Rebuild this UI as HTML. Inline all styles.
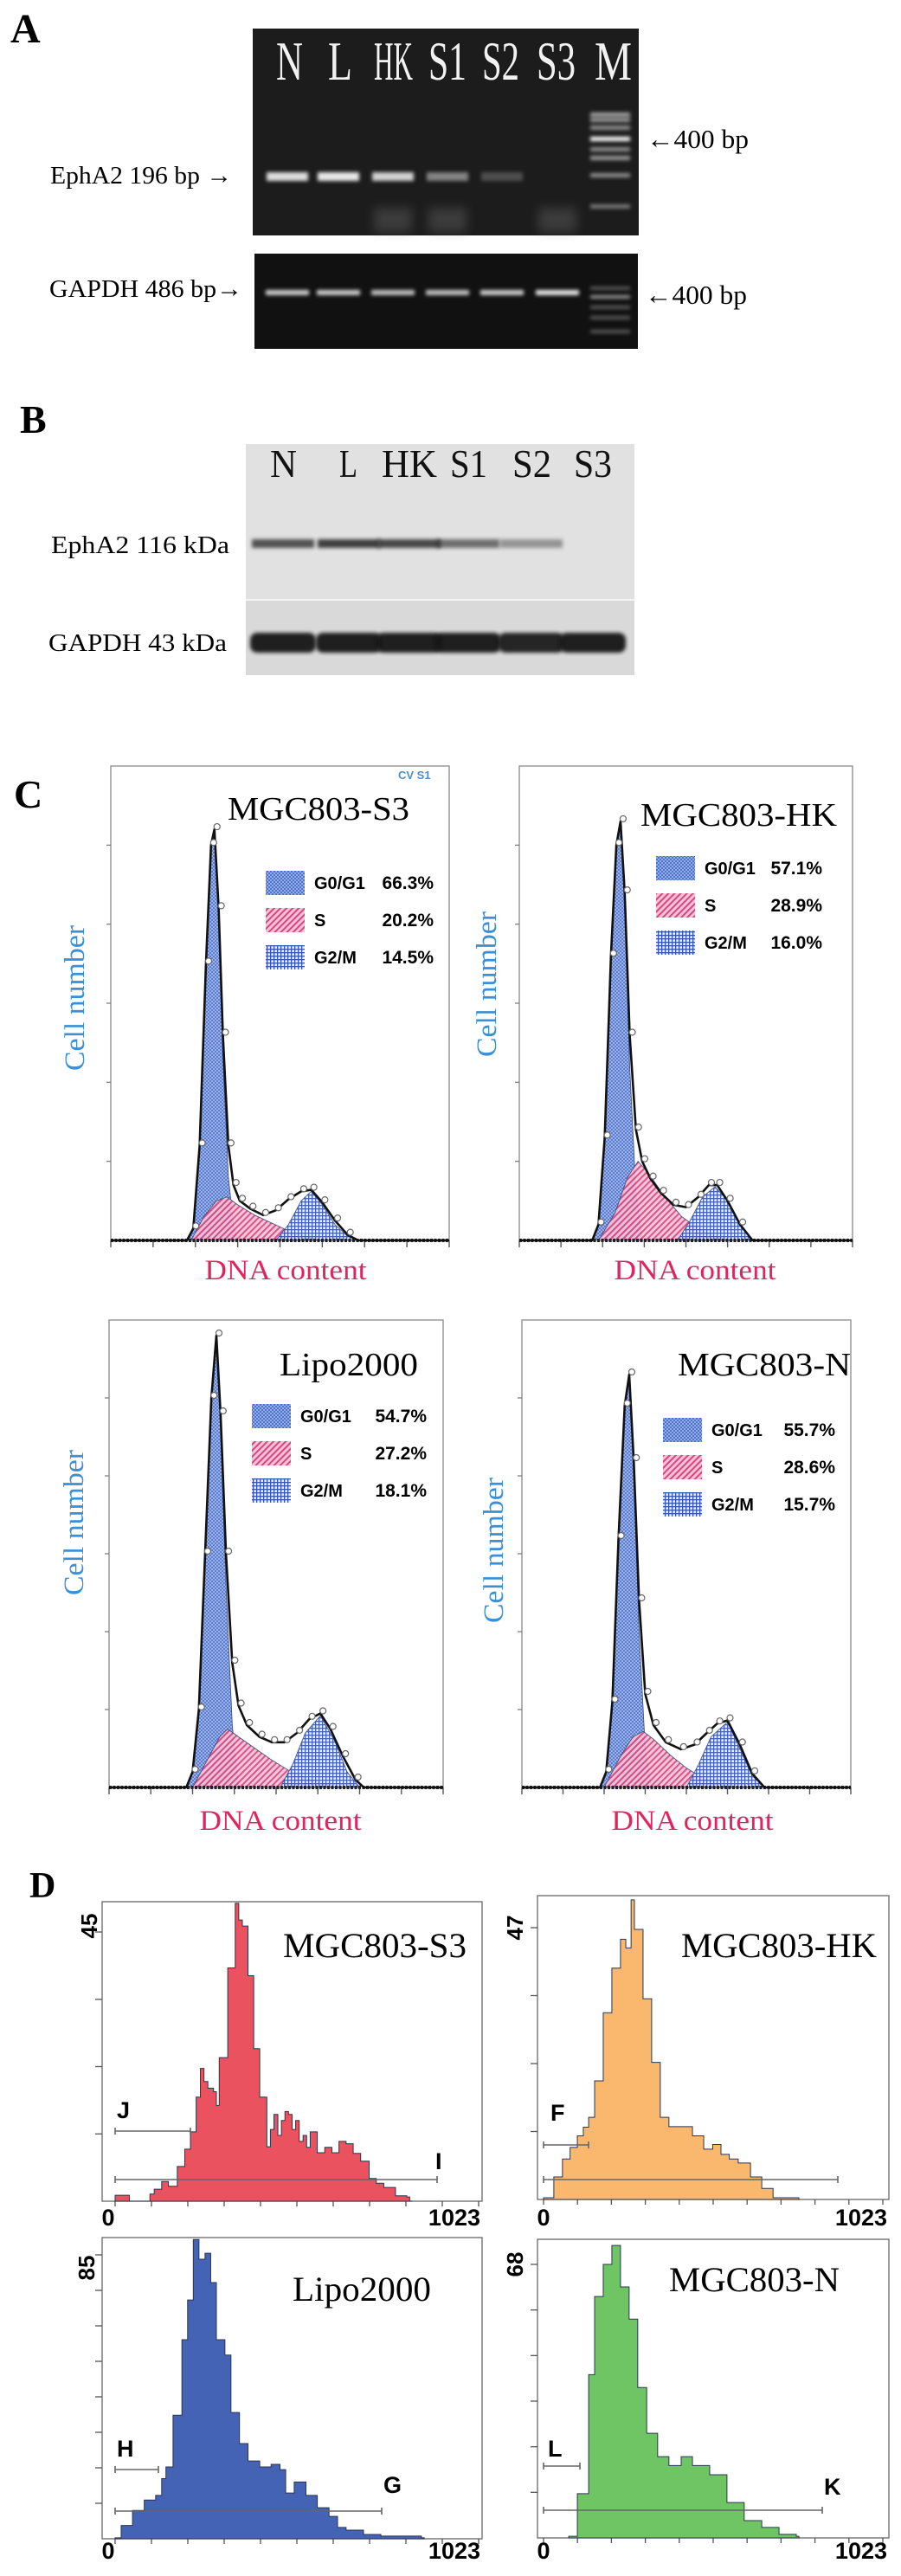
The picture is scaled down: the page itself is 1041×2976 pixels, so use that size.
<!DOCTYPE html>
<html><head><meta charset="utf-8"><title>EphA2 figure</title>
<style>
html,body{margin:0;padding:0;background:#fff;}
svg{display:block;}
.serif{font-family:"Liberation Serif",serif;}
.sans{font-family:"Liberation Sans",sans-serif;}
</style></head>
<body>
<svg id="fig" width="1041" height="2976" viewBox="0 0 1041 2976" xmlns="http://www.w3.org/2000/svg">
<defs>
  <filter id="blur2" x="-20%" y="-100%" width="140%" height="300%"><feGaussianBlur stdDeviation="2"/></filter>
  <filter id="blur6" x="-30%" y="-100%" width="160%" height="300%"><feGaussianBlur stdDeviation="6"/></filter>
  <pattern id="pG1" width="4" height="4" patternUnits="userSpaceOnUse"><rect width="4" height="4" fill="#4f72c6"/><rect width="2" height="2" fill="#93acea"/><rect x="2" y="2" width="2" height="2" fill="#93acea"/></pattern>
  <pattern id="pS" width="5" height="5" patternUnits="userSpaceOnUse" patternTransform="rotate(45)"><rect width="5" height="5" fill="#f6c3d7"/><rect width="2" height="5" fill="#d9467f"/></pattern>
  <pattern id="pG2" width="4" height="4" patternUnits="userSpaceOnUse"><rect width="4" height="4" fill="#e6ecfa"/><rect width="1.3" height="4" fill="#3557b0"/><rect width="4" height="1.3" fill="#3557b0"/></pattern>
</defs>

<!-- Panel A -->
<text class="serif" x="12" y="49" font-size="48" font-weight="bold">A</text>
<rect x="292" y="33" width="446" height="239" fill="#1c1c1c"/>
<rect x="294" y="293" width="443" height="110" fill="#111"/>
<g id="gelA"></g>
<g class="serif" fill="#f2f2f2" font-size="64">
  <text x="319" y="92" textLength="31" lengthAdjust="spacingAndGlyphs">N</text>
  <text x="379" y="92" textLength="28" lengthAdjust="spacingAndGlyphs">L</text>
  <text x="432" y="92" textLength="45" lengthAdjust="spacingAndGlyphs">HK</text>
  <text x="495" y="92" textLength="44" lengthAdjust="spacingAndGlyphs">S1</text>
  <text x="557" y="92" textLength="43" lengthAdjust="spacingAndGlyphs">S2</text>
  <text x="620" y="92" textLength="45" lengthAdjust="spacingAndGlyphs">S3</text>
  <text x="687" y="92" textLength="43" lengthAdjust="spacingAndGlyphs">M</text>
</g>
<text class="serif" x="58" y="212" font-size="29" textLength="210" lengthAdjust="spacingAndGlyphs">EphA2 196 bp →</text>
<text class="serif" x="57" y="343" font-size="29" textLength="223" lengthAdjust="spacingAndGlyphs">GAPDH 486 bp→</text>
<text class="serif" x="747" y="171" font-size="31" textLength="118" lengthAdjust="spacingAndGlyphs">←400 bp</text>
<text class="serif" x="745" y="351" font-size="31" textLength="118" lengthAdjust="spacingAndGlyphs">←400 bp</text>

<!-- Panel B -->
<text class="serif" x="23" y="500" font-size="46" font-weight="bold">B</text>
<rect x="284" y="513" width="449" height="180" fill="#e1e1e1"/>
<rect x="284" y="693" width="449" height="87" fill="#d9d9d9"/>
<line x1="284" y1="693" x2="733" y2="693" stroke="#f4f4f4" stroke-width="2"/>
<g id="blotB"></g>
<g class="serif" fill="#111" font-size="46">
  <text x="312" y="551" textLength="31" lengthAdjust="spacingAndGlyphs">N</text>
  <text x="392" y="551" textLength="21" lengthAdjust="spacingAndGlyphs">L</text>
  <text x="441" y="551" textLength="64" lengthAdjust="spacingAndGlyphs">HK</text>
  <text x="520" y="551" textLength="43" lengthAdjust="spacingAndGlyphs">S1</text>
  <text x="592" y="551" textLength="45" lengthAdjust="spacingAndGlyphs">S2</text>
  <text x="663" y="551" textLength="44" lengthAdjust="spacingAndGlyphs">S3</text>
</g>
<text class="serif" x="59" y="639" font-size="29" textLength="206" lengthAdjust="spacingAndGlyphs">EphA2  116 kDa</text>
<text class="serif" x="56" y="752" font-size="29" textLength="206" lengthAdjust="spacingAndGlyphs">GAPDH  43 kDa</text>

<!-- Panel C -->
<text class="serif" x="16" y="933" font-size="46" font-weight="bold">C</text>
<g id="panelC"></g>
<text class="sans" x="460" y="900" font-size="13" font-weight="bold" fill="#4a8fd0">CV S1</text>

<!-- Panel D -->
<text class="serif" x="34" y="2192" font-size="42" font-weight="bold">D</text>
<g id="panelD"></g>
</svg>

<script>
// ===== Panel A / B data =====
const gelLanes = ["N", "L", "HK", "S1", "S2", "S3"];
const epha2Rna = [0.85, 0.9, 0.8, 0.45, 0.22, 0.0];
const gapdhRna = [0.8, 0.8, 0.75, 0.75, 0.8, 0.9];
const markerBands = [0.6, 0.55, 0.5, 1.0, 0.5, 0.55, 0.5, 0.4];
const epha2Protein = [0.75, 0.85, 0.8, 0.6, 0.4, 0.0];
const gapdhProtein = [0.95, 0.95, 0.95, 0.95, 0.92, 0.95];

// ===== Panel C data (x in DNA-channel units 0-8, y in tick units 0-6) =====
const s3TotX = [0,1.8,1.95,2.1,2.25,2.37,2.45,2.55,2.65,2.78,2.9,3.05,3.3,3.6,3.9,4.2,4.5,4.74,5.0,5.3,5.6,5.85,8];
const s3TotY = [0,0,0.15,1.2,3.5,5.0,5.2,4.2,2.6,1.2,0.7,0.5,0.4,0.32,0.38,0.52,0.62,0.64,0.48,0.25,0.07,0,0];
const s3G1X = [1.8,1.95,2.1,2.25,2.37,2.45,2.55,2.65,2.78,2.9,3.0];
const s3G1Y = [0,0.15,1.2,3.5,5.0,5.2,4.1,2.3,0.8,0.2,0];
const s3SX = [1.9,2.2,2.5,2.75,3.0,3.4,3.8,4.2,4.6,5.0];
const s3SY = [0,0.3,0.5,0.55,0.45,0.32,0.22,0.12,0.05,0];
const s3G2X = [3.9,4.2,4.5,4.74,5.0,5.3,5.6,5.85];
const s3G2Y = [0,0.2,0.5,0.62,0.45,0.2,0.05,0];

const hkTotX = [0,1.75,1.9,2.05,2.2,2.33,2.43,2.53,2.65,2.8,2.95,3.15,3.4,3.7,4.0,4.3,4.55,4.75,5.0,5.3,5.6,8];
const hkTotY = [0,0,0.2,1.3,3.6,5.0,5.3,4.4,2.6,1.4,1.0,0.78,0.6,0.45,0.42,0.55,0.7,0.7,0.5,0.2,0,0];
const hkG1X = [1.75,1.9,2.05,2.2,2.33,2.43,2.53,2.65,2.8,2.95];
const hkG1Y = [0,0.2,1.3,3.6,5.0,5.3,4.2,2.2,0.6,0];
const hkSX = [1.9,2.3,2.6,2.85,3.1,3.5,3.9,4.3,4.7,5.1];
const hkSY = [0,0.35,0.8,1.0,0.85,0.55,0.3,0.15,0.05,0];
const hkG2X = [3.8,4.1,4.4,4.7,5.0,5.3,5.6];
const hkG2Y = [0,0.25,0.55,0.68,0.5,0.2,0];

const lipoTotX = [0,1.85,2.0,2.15,2.3,2.45,2.57,2.67,2.8,2.95,3.1,3.3,3.6,3.9,4.2,4.5,4.8,5.06,5.3,5.6,5.9,6.1,8];
const lipoTotY = [0,0,0.2,1.0,3.0,5.0,5.8,4.8,3.0,1.6,1.05,0.8,0.65,0.58,0.58,0.7,0.88,0.95,0.75,0.4,0.1,0,0];
const lipoG1X = [1.85,2.0,2.15,2.3,2.45,2.57,2.67,2.8,2.95,3.1];
const lipoG1Y = [0,0.2,1.0,3.0,5.0,5.8,4.6,2.6,0.8,0];
const lipoSX = [2.0,2.4,2.65,2.84,3.1,3.5,3.9,4.3,4.7,5.2,5.6];
const lipoSY = [0,0.4,0.65,0.75,0.65,0.5,0.35,0.22,0.12,0.04,0];
const lipoG2X = [4.1,4.4,4.7,5.06,5.4,5.7,6.0];
const lipoG2Y = [0,0.3,0.7,0.92,0.6,0.2,0];

const nTotX = [0,1.9,2.05,2.2,2.35,2.5,2.61,2.72,2.85,3.0,3.2,3.5,3.87,4.2,4.5,4.75,5.0,5.3,5.6,5.9,8];
const nTotY = [0,0,0.2,1.1,3.2,4.9,5.3,4.2,2.4,1.2,0.8,0.58,0.49,0.55,0.7,0.82,0.86,0.55,0.18,0,0];
const nG1X = [1.9,2.05,2.2,2.35,2.5,2.61,2.72,2.85,3.0,3.15];
const nG1Y = [0,0.2,1.1,3.2,4.9,5.3,4.0,2.0,0.5,0];
const nSX = [2.0,2.4,2.7,2.95,3.2,3.6,4.0,4.4,4.8,5.2];
const nSY = [0,0.4,0.65,0.72,0.62,0.42,0.25,0.12,0.04,0];
const nG2X = [4.0,4.3,4.6,5.0,5.3,5.6,5.9];
const nG2Y = [0,0.3,0.65,0.84,0.5,0.15,0];

const phaseNames = ["G0/G1", "S", "G2/M"];
const s3Pct = ["66.3%", "20.2%", "14.5%"];
const hkPct = ["57.1%", "28.9%", "16.0%"];
const lipoPct = ["54.7%", "27.2%", "18.1%"];
const nPct = ["55.7%", "28.6%", "15.7%"];

// ===== Panel D data (channel 0-1023, counts) =====
const dS3Chan = [0,20,40,98,110,131,150,175,196,212,228,240,250,261,277,285,293,317,338,348,358,374,390,407,427,437,447,458,468,478,488,498,508,518,529,539,549,569,590,610,630,650,670,691,715,735,756,789,821,829];
const dS3Count = [1,1,0,1.2,2,3.3,2.5,5.8,8.7,11.6,17.4,22.2,20,18.9,18.3,16,24,39,49.8,47,46,37.7,25.5,17.4,9.1,12,14.5,11,13.5,15,14.5,12,13.5,10,11,9,11.6,8.1,9,8.1,10,9.6,8,6.7,3.8,3,2.3,0.9,0.7,0];
const dHkChan = [0,31,57,80,102,120,136,154,180,206,232,248,264,274,300,326,352,378,415,449,483,510,535,560,587,624,658,692,762];
const dHkCount = [0.3,3.9,7,9,11,12.5,14.2,20.5,32.3,40,45,43.5,51.8,46.7,34.7,23.7,14.2,12.6,12.6,11,8.7,9.5,7.8,7,6.3,3.9,1.9,0.3,0.3];
const dLipoChan = [0,17,49,82,114,131,143,163,188,204,220,236,253,269,285,309,326,350,374,407,439,464,480,504,537,569,602,626,650,699,748,862];
const dLipoCount = [0.3,4,8.5,11.6,13,18,21.5,37,59.6,71.5,89.6,83.7,85.5,76.7,59.6,55,37.8,28.5,23.3,21.5,22.3,20.7,13.7,17,13,9.3,6.7,3.4,2.6,1.3,0.8,0.3];
const dNChan = [76,102,136,154,180,206,232,258,284,311,344,378,415,449,501,553,605,658,710,762];
const dNCount = [0.4,11,40.6,60,68,72.7,62.4,54.4,37.4,26,20.2,18,20.2,18,15.7,8.8,4.3,2.6,0.9,0.4];

const dMax = ["45", "47", "85", "68"];
const dTitles = ["MGC803-S3", "MGC803-HK", "Lipo2000", "MGC803-N"];
const dGates = [["J", "I"], ["F", ""], ["H", "G"], ["L", "K"]];

// ===== helpers =====
const NS = "http://www.w3.org/2000/svg";
function mk(tag, parent) { const e = document.createElementNS(NS, tag); parent.appendChild(e); return e; }
function setA(e, o) { for (const k in o) e.setAttribute(k, o[k]); }

// ===== draw Panel A =====
const gelA = document.getElementById("gelA");
const laneCx = [332, 391, 454, 517, 580, 644];
gelLanes.forEach((ln, i) => {
  const v = epha2Rna[i];
  if (v > 0) {
    const b = mk("rect", gelA);
    setA(b, {x: laneCx[i]-24, y: 199, width: 48, height: 10, fill: "#fff", opacity: v, filter: "url(#blur2)"});
    
    
  }
  const g = mk("rect", gelA);
  setA(g, {x: laneCx[i]-25, y: 335, width: 50, height: 6, fill: "#fff", opacity: gapdhRna[i], filter: "url(#blur2)"});
  
  
});
[2,3,5].forEach(i => {
  const s = mk("rect", gelA);
  setA(s, {x: laneCx[i]-22, y: 240, width: 44, height: 28, fill: "#777", opacity: 0.35, filter: "url(#blur6)"});
  
  
});
const markerY1 = [132, 138, 147, 160, 172, 182, 202, 238];
markerBands.forEach((v, k) => {
  const m = mk("rect", gelA);
  setA(m, {x: 682, y: markerY1[k]-2, width: 46, height: 5, fill: "#fff", opacity: v, filter: "url(#blur2)"});
  
  
});
[333, 343, 355, 367, 383].forEach((y, k) => {
  const m = mk("rect", gelA);
  setA(m, {x: 682, y: y-2, width: 46, height: 4, fill: "#fff", opacity: k === 1 ? 0.55 : 0.3, filter: "url(#blur2)"});
  
  
});

// ===== draw Panel B =====
const blotB = document.getElementById("blotB");
const blotCx = [327, 403, 473, 541, 614, 685];
gelLanes.forEach((ln, i) => {
  const v = epha2Protein[i];
  if (v > 0) {
    const b = mk("rect", blotB);
    setA(b, {x: blotCx[i]-36, y: 623, width: 72, height: 10, fill: "#222", opacity: v, filter: "url(#blur2)"});
    
    
  }
  const g = mk("rect", blotB);
  setA(g, {x: blotCx[i]-38, y: 731, width: 76, height: 23, rx: 8, fill: "#151515", opacity: gapdhProtein[i], filter: "url(#blur2)"});
  
  
});

// ===== draw Panel C =====
const panelC = document.getElementById("panelC");
const cPlots = [
  {name:"mgc803-s3", L:128, R:519, T:885, B:1433, tot:[s3TotX,s3TotY], g1:[s3G1X,s3G1Y], s:[s3SX,s3SY], g2:[s3G2X,s3G2Y], pct:s3Pct, title:"MGC803-S3", tx:263, ty:947, tw:210, lx:307, ly:1020, vx:501, cnx:86, cny:1153, dnx:330, dny:1478},
  {name:"mgc803-hk", L:600, R:985, T:885, B:1433, tot:[hkTotX,hkTotY], g1:[hkG1X,hkG1Y], s:[hkSX,hkSY], g2:[hkG2X,hkG2Y], pct:hkPct, title:"MGC803-HK", tx:740, ty:954, tw:227, lx:758, ly:1003, vx:950, cnx:562, cny:1137, dnx:803, dny:1478},
  {name:"lipo2000", L:126, R:512, T:1525, B:2065, tot:[lipoTotX,lipoTotY], g1:[lipoG1X,lipoG1Y], s:[lipoSX,lipoSY], g2:[lipoG2X,lipoG2Y], pct:lipoPct, title:"Lipo2000", tx:323, ty:1589, tw:160, lx:291, ly:1636, vx:493, cnx:85, cny:1759, dnx:324, dny:2114},
  {name:"mgc803-n", L:603, R:983, T:1525, B:2065, tot:[nTotX,nTotY], g1:[nG1X,nG1Y], s:[nSX,nSY], g2:[nG2X,nG2Y], pct:nPct, title:"MGC803-N", tx:783, ty:1589, tw:200, lx:766, ly:1652, vx:965, cnx:570, cny:1791, dnx:800, dny:2114}
];
cPlots.forEach(p => {
  const g = mk("g", panelC);
  
  
  const ux = (p.R - p.L) / 8, uy = (p.B - p.T) / 6;
  const X = v => p.L + v * ux, Y = v => p.B - v * uy;
  const fr = mk("path", g);
  setA(fr, {d:`M${p.L},${p.B} L${p.L},${p.T} L${p.R},${p.T} L${p.R},${p.B}`, fill:"none", stroke:"#888", "stroke-width":1.3});
  
  
  for (let k = 1; k <= 5; k++) {
    const t = mk("line", g);
    setA(t, {x1:p.L-5, x2:p.L, y1:Y(k), y2:Y(k), stroke:"#777", "stroke-width":1.2});
    
    
  }
  for (let k = 0; k <= 8; k++) {
    const t = mk("line", g);
    setA(t, {x1:X(k), x2:X(k), y1:p.B, y2:p.B+8, stroke:"#555", "stroke-width":1.4});
    
    
  }
  const area = (arr, fill, nm) => {
    let d = `M${X(arr[0][0])},${Y(0)}`;
    arr[0].forEach((x, i) => { d += ` L${X(x)},${Y(arr[1][i])}`; });
    d += ` L${X(arr[0][arr[0].length-1])},${Y(0)} Z`;
    const a = mk("path", g);
    setA(a, {d, fill, stroke:"#3a4a80", "stroke-width":0.8, "fill-opacity":0.92});
    
    
  };
  area(p.g1, "url(#pG1)", "g0-g1-component");
  area(p.s, "url(#pS)", "s-phase-component");
  area(p.g2, "url(#pG2)", "g2-m-component");
  const bl = mk("line", g);
  setA(bl, {x1:p.L, x2:p.R, y1:p.B, y2:p.B, stroke:"#222", "stroke-width":4, "stroke-dasharray":"3,1.5"});
  
  
  let d = "";
  p.tot[0].forEach((x, i) => { d += (i ? " L" : "M") + X(x) + "," + Y(p.tot[1][i]); });
  const env = mk("path", g);
  setA(env, {d, fill:"none", stroke:"#111", "stroke-width":2.6, "stroke-linejoin":"round"});
  
  
  p.tot[0].forEach((x, i) => {
    if (p.tot[1][i] <= 0) return;
    const c = mk("circle", g);
    setA(c, {cx:X(x)+3, cy:Y(p.tot[1][i])-3, r:3.5, fill:"#fff", stroke:"#666", "stroke-width":1.2});
    
    
  });
  const tt = mk("text", g);
  setA(tt, {x:p.tx, y:p.ty, "font-size":38, class:"serif", textLength:p.tw, lengthAdjust:"spacingAndGlyphs"});
  tt.textContent = p.title;
  
  
  const fills = ["url(#pG1)", "url(#pS)", "url(#pG2)"];
  phaseNames.forEach((ph, k) => {
    const yy = p.ly + k * 43;
    const sw = mk("rect", g);
    setA(sw, {x:p.lx, y:yy-14, width:45, height:28, fill:fills[k]});
    
    
    const lt = mk("text", g);
    setA(lt, {x:p.lx+56, y:yy+7, "font-size":20, "font-weight":"bold", class:"sans"});
    lt.textContent = ph;
    
    
    const vt = mk("text", g);
    setA(vt, {x:p.vx, y:yy+7, "font-size":21, "font-weight":"bold", class:"sans", "text-anchor":"end"});
    vt.textContent = p.pct[k];
    
    
  });
  const cn = mk("text", g);
  setA(cn, {x:p.cnx+11, y:p.cny, "font-size":33, fill:"#3b8fd4", class:"serif", "text-anchor":"middle", transform:`rotate(-90 ${p.cnx+11} ${p.cny})`, textLength:168, lengthAdjust:"spacingAndGlyphs"});
  cn.textContent = "Cell number";
  
  
  const dn = mk("text", g);
  setA(dn, {x:p.dnx, y:p.dny, "font-size":33, fill:"#e0245e", class:"serif", "text-anchor":"middle", textLength:187, lengthAdjust:"spacingAndGlyphs"});
  dn.textContent = "DNA content";
  
  
});

// ===== draw Panel D =====
const panelD = document.getElementById("panelD");
const dPlots = [
  {name:"mgc803-s3", L:118, R:557, T:2197, B:2543, c0:133, c1:553, ymax:45, yTop:2232, nt:4, chan:dS3Chan, cnt:dS3Count, fill:"#e9525e", tx:327, ty:2261, tw:212, ml:2225, lx:103, g1y:2462, g1x:220, g2y:2518, g2x:505, l1x:135, l1y:2447, l2x:503, l2y:2506, zy:2571},
  {name:"mgc803-hk", L:621, R:1027, T:2190, B:2541, c0:628, c1:1020, ymax:47, yTop:2227, nt:4, chan:dHkChan, cnt:dHkCount, fill:"#f9b86e", tx:787, ty:2261, tw:226, ml:2227, lx:595, g1y:2478, g1x:680, g2y:2518, g2x:968, l1x:636, l1y:2450, l2x:0, l2y:0, zy:2571},
  {name:"lipo2000", L:118, R:557, T:2585, B:2933, c0:133, c1:553, ymax:85, yTop:2605, nt:8, chan:dLipoChan, cnt:dLipoCount, fill:"#4563b5", tx:338, ty:2658, tw:160, ml:2620, lx:100, g1y:2853, g1x:183, g2y:2901, g2x:441, l1x:135, l1y:2838, l2x:443, l2y:2880, zy:2956},
  {name:"mgc803-n", L:621, R:1027, T:2587, B:2932, c0:628, c1:1020, ymax:68, yTop:2616, nt:6, chan:dNChan, cnt:dNCount, fill:"#6fc564", tx:773, ty:2647, tw:197, ml:2616, lx:595, g1y:2849, g1x:670, g2y:2900, g2x:950, l1x:633, l1y:2838, l2x:952, l2y:2882, zy:2956}
];
dPlots.forEach((p, idx) => {
  const g = mk("g", panelD);
  
  
  const X = c => p.c0 + c * (p.c1 - p.c0) / 1023;
  const Y = v => p.B - v * (p.B - p.yTop) / p.ymax;
  const fr = mk("rect", g);
  setA(fr, {x:p.L, y:p.T, width:p.R-p.L, height:p.B-p.T, fill:"none", stroke:"#666", "stroke-width":1.3});
  
  
  for (let k = 1; k <= p.nt; k++) {
    const yv = p.ymax * k / p.nt;
    const t = mk("line", g);
    setA(t, {x1:p.L-8, x2:p.L, y1:Y(yv), y2:Y(yv), stroke:"#555", "stroke-width":1.3});
    
    
  }
  for (let k = 0; k <= 10; k++) {
    const t = mk("line", g);
    setA(t, {x1:X(k*102.3), x2:X(k*102.3), y1:p.B, y2:p.B+6, stroke:"#555", "stroke-width":1.3});
    
    
  }
  let d = `M${X(p.chan[0])},${p.B}`;
  p.chan.forEach((c, i) => {
    const nx = i + 1 < p.chan.length ? p.chan[i+1] : c + 8;
    d += ` L${X(c)},${Y(p.cnt[i])} L${X(nx)},${Y(p.cnt[i])}`;
  });
  d += ` L${X(p.chan[p.chan.length-1]+8)},${p.B} Z`;
  const a = mk("path", g);
  setA(a, {d, fill:p.fill, stroke:"#2a3550", "stroke-width":1});
  
  
  const gate = (y, x2, nm) => {
    const ln = mk("path", g);
    setA(ln, {d:`M${p.c0},${y} L${x2},${y} M${p.c0},${y-4} L${p.c0},${y+4} M${x2},${y-4} L${x2},${y+4}`, stroke:"#666", "stroke-width":1.6, fill:"none"});
    
    
  };
  gate(p.g1y, p.g1x, 'gate-' + dGates[idx][0].toLowerCase());
  gate(p.g2y, p.g2x, 'gate-region-total');
  const l1 = mk("text", g);
  setA(l1, {x:p.l1x, y:p.l1y, "font-size":27, "font-weight":"bold", class:"sans"});
  l1.textContent = dGates[idx][0];
  
  
  if (dGates[idx][1]) {
    const l2 = mk("text", g);
    setA(l2, {x:p.l2x, y:p.l2y, "font-size":27, "font-weight":"bold", class:"sans"});
    l2.textContent = dGates[idx][1];
    
    
  }
  const tt = mk("text", g);
  setA(tt, {x:p.tx, y:p.ty, "font-size":40, class:"serif", textLength:p.tw, lengthAdjust:"spacingAndGlyphs"});
  tt.textContent = dTitles[idx];
  
  
  const mx = mk("text", g);
  setA(mx, {x:p.lx+9, y:p.ml, "font-size":26, "font-weight":"bold", class:"sans", "text-anchor":"middle", transform:`rotate(-90 ${p.lx+9} ${p.ml})`});
  mx.textContent = dMax[idx];
  
  
  const z = mk("text", g);
  setA(z, {x:p.L+7, y:p.zy, "font-size":27, "font-weight":"bold", class:"sans", "text-anchor":"middle"});
  z.textContent = "0";
  
  
  const e = mk("text", g);
  setA(e, {x:p.R-2, y:p.zy, "font-size":27, "font-weight":"bold", class:"sans", "text-anchor":"end"});
  e.textContent = "1023";
  
  
});
</script>
</body></html>
